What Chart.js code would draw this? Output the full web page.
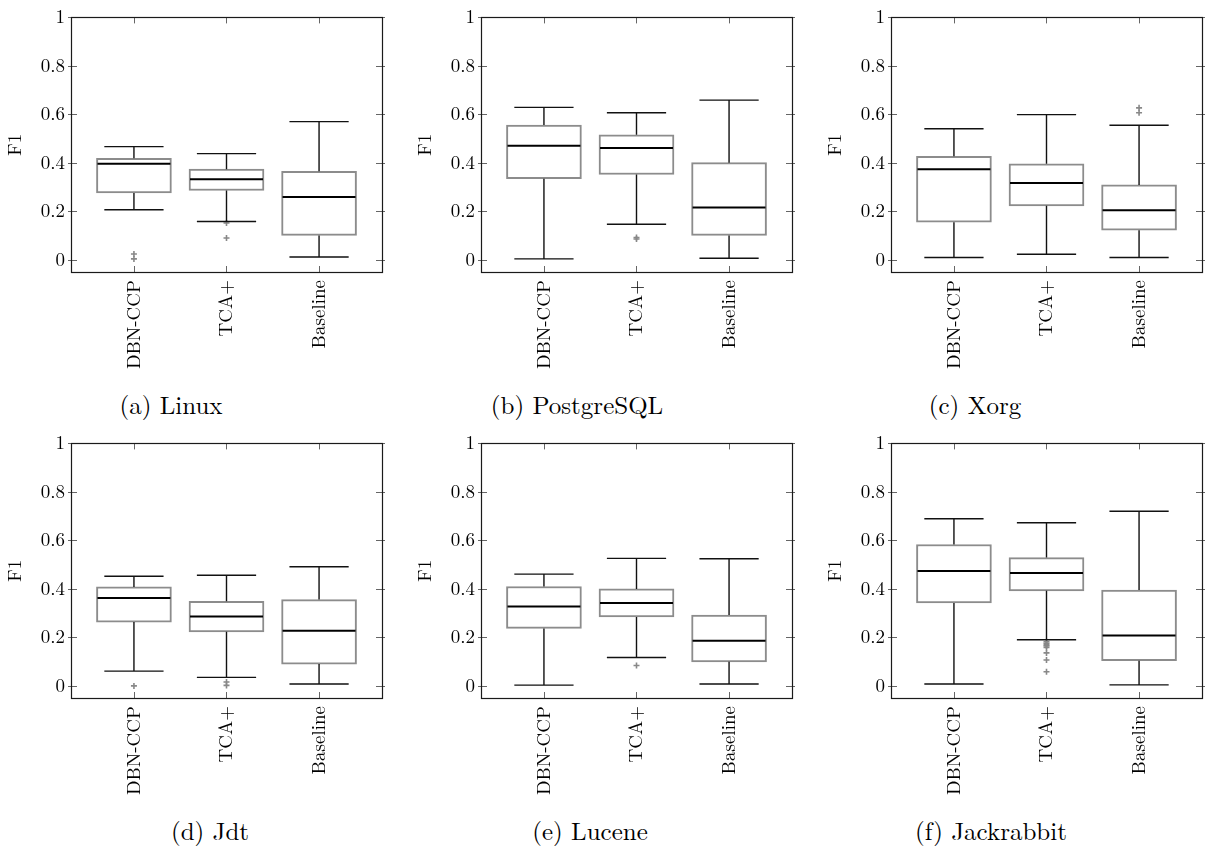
<!DOCTYPE html>
<html>
<head>
<meta charset="utf-8">
<script src="https://cdn.jsdelivr.net/npm/chart.js@4.4.1/dist/chart.umd.min.js"></script>
<style>
  html, body { margin: 0; padding: 0; background: #fff; }
  #figure { position: relative; width: 1209px; height: 850px; overflow: hidden; }
  #figure canvas { position: absolute; }
  .caption {
    position: absolute;
    transform: translate(-50%, -50%);
    font-family: 'Latin Modern Roman', 'CMU Serif', 'TeX Gyre Termes', 'Nimbus Roman', 'FreeSerif', 'Noto Serif', 'Liberation Serif', 'DejaVu Serif', serif;
    font-size: 25px;
    color: #000;
    white-space: nowrap;
  }
</style>
</head>
<body>
<div id="figure"></div>
<script>
// categories on the x axis of every panel
const categories = ['DBN-CCP', 'TCA+', 'Baseline'];
const captions = ['(a) Linux', '(b) PostgreSQL', '(c) Xorg', '(d) Jdt', '(e) Lucene', '(f) Jackrabbit'];
const yTicks = [0, 0.2, 0.4, 0.6, 0.8, 1];

// box statistics per panel, one value per category (DBN-CCP, TCA+, Baseline)
const lowerWhisker = [
  [0.207, 0.158, 0.012],
  [0.004, 0.147, 0.007],
  [0.010, 0.023, 0.010],
  [0.061, 0.035, 0.008],
  [0.003, 0.117, 0.008],
  [0.008, 0.190, 0.004],
];
const lowerQuartile = [
  [0.276, 0.286, 0.101],
  [0.335, 0.352, 0.101],
  [0.155, 0.223, 0.122],
  [0.263, 0.223, 0.090],
  [0.237, 0.284, 0.099],
  [0.342, 0.392, 0.104],
];
const medians = [
  [0.396, 0.333, 0.259],
  [0.471, 0.461, 0.216],
  [0.374, 0.317, 0.205],
  [0.362, 0.286, 0.227],
  [0.327, 0.342, 0.186],
  [0.474, 0.465, 0.208],
];
const upperQuartile = [
  [0.419, 0.374, 0.365],
  [0.556, 0.516, 0.401],
  [0.427, 0.396, 0.309],
  [0.408, 0.349, 0.356],
  [0.410, 0.400, 0.292],
  [0.583, 0.529, 0.395],
];
const upperWhisker = [
  [0.467, 0.438, 0.570],
  [0.629, 0.607, 0.659],
  [0.541, 0.599, 0.555],
  [0.452, 0.456, 0.491],
  [0.461, 0.526, 0.524],
  [0.689, 0.673, 0.720],
];
const outliers = [
  [[0.024, 0.004], [0.152, 0.090], []],
  [[], [0.092, 0.086], []],
  [[], [], [0.627, 0.607]],
  [[0.0], [0.016, 0.002], []],
  [[], [0.084], []],
  [[], [0.182, 0.176, 0.170, 0.165, 0.158, 0.136, 0.107, 0.058], []],
];

const FONT = "'Latin Modern Roman', 'CMU Serif', 'TeX Gyre Termes', 'Nimbus Roman', 'FreeSerif', 'Noto Serif', 'Liberation Serif', 'DejaVu Serif', serif";
const plotLefts = [71, 481, 891];
const plotTops = [14, 440];
const captionPos = [[171, 403], [577, 403], [975, 403], [210, 829], [590, 829], [991, 829]];

const boxPlugin = {
  id: 'boxWhiskers',
  afterDatasetsDraw(chart, args, opts) {
    const { ctx, scales } = chart;
    const k = opts.panel;
    const x = scales.x;
    const y = scales.y;
    ctx.save();
    categories.forEach((_, i) => {
      const cx = x.getPixelForValue(i + 1);
      const capL = x.getPixelForValue(i + 1 - 0.32);
      const capR = x.getPixelForValue(i + 1 + 0.32);
      const boxL = x.getPixelForValue(i + 1 - 0.405);
      const boxR = x.getPixelForValue(i + 1 + 0.405);
      ctx.strokeStyle = '#111';
      ctx.lineWidth = 1.4;
      ctx.beginPath();
      ctx.moveTo(cx, y.getPixelForValue(upperQuartile[k][i]));
      ctx.lineTo(cx, y.getPixelForValue(upperWhisker[k][i]));
      ctx.moveTo(cx, y.getPixelForValue(lowerQuartile[k][i]));
      ctx.lineTo(cx, y.getPixelForValue(lowerWhisker[k][i]));
      ctx.moveTo(capL, y.getPixelForValue(upperWhisker[k][i]));
      ctx.lineTo(capR, y.getPixelForValue(upperWhisker[k][i]));
      ctx.moveTo(capL, y.getPixelForValue(lowerWhisker[k][i]));
      ctx.lineTo(capR, y.getPixelForValue(lowerWhisker[k][i]));
      ctx.stroke();
      ctx.strokeStyle = '#000';
      ctx.lineWidth = 2;
      ctx.beginPath();
      ctx.moveTo(boxL + 1, y.getPixelForValue(medians[k][i]));
      ctx.lineTo(boxR - 1, y.getPixelForValue(medians[k][i]));
      ctx.stroke();
    });
    ctx.restore();
  },
  afterDraw(chart) {
    const { ctx, chartArea: a, scales } = chart;
    ctx.save();
    ctx.strokeStyle = '#666';
    ctx.lineWidth = 1;
    ctx.beginPath();
    scales.y.ticks.forEach((t) => {
      const py = Math.round(scales.y.getPixelForValue(t.value)) + 0.5;
      ctx.moveTo(a.left - 3, py); ctx.lineTo(a.left + 6, py);
      ctx.moveTo(a.right - 6, py); ctx.lineTo(a.right + 3, py);
    });
    scales.x.ticks.forEach((t) => {
      const px = Math.round(scales.x.getPixelForValue(t.value)) + 0.5;
      ctx.moveTo(px, a.top); ctx.lineTo(px, a.top + 6);
      ctx.moveTo(px, a.bottom); ctx.lineTo(px, a.bottom - 6);
    });
    ctx.stroke();
    ctx.strokeStyle = '#1a1a1a';
    ctx.lineWidth = 1.2;
    ctx.strokeRect(Math.round(a.left) + 0.5, Math.round(a.top) + 0.5,
      Math.round(a.right - a.left), Math.round(a.bottom - a.top));
    ctx.restore();
  },
};

function renderPanel(k) {
  const fig = document.getElementById('figure');
  const canvas = document.createElement('canvas');
  canvas.width = 389;
  canvas.height = 372;
  canvas.style.left = (plotLefts[k % 3] - 71) + 'px';
  canvas.style.top = (plotTops[Math.floor(k / 3)] - 14) + 'px';
  fig.appendChild(canvas);

  const cap = document.createElement('div');
  cap.className = 'caption';
  cap.textContent = captions[k];
  cap.style.left = captionPos[k][0] + 'px';
  cap.style.top = captionPos[k][1] + 'px';
  fig.appendChild(cap);

  const outlierPoints = [];
  outliers[k].forEach((vals, i) => vals.forEach((v) => outlierPoints.push({ x: i + 1, y: v })));

  new Chart(canvas.getContext('2d'), {
    type: 'bar',
    data: {
      datasets: [
        {
          label: 'IQR',
          data: categories.map((_, i) => ({ x: i + 1, y: [lowerQuartile[k][i], upperQuartile[k][i]] })),
          backgroundColor: '#fff',
          borderColor: '#8c8c8c',
          borderWidth: 2,
          borderSkipped: false,
          barThickness: 75,
        },
        {
          type: 'scatter',
          label: 'Outliers',
          data: outlierPoints,
          pointStyle: 'cross',
          radius: 3,
          borderColor: '#888',
          borderWidth: 1.6,
        },
      ],
    },
    options: {
      responsive: false,
      animation: false,
      devicePixelRatio: 1,
      layout: { padding: { top: 14, right: 7, left: 0, bottom: 0 } },
      scales: {
        x: {
          type: 'linear',
          min: 0.32,
          max: 3.68,
          offset: false,
          grid: { display: false, drawTicks: false },
          border: { display: false },
          afterBuildTicks: (scale) => { scale.ticks = categories.map((_, i) => ({ value: i + 1 })); },
          afterFit: (scale) => { scale.height = 100; },
          ticks: {
            autoSkip: false,
            minRotation: 90,
            maxRotation: 90,
            padding: 8,
            color: '#000',
            font: { family: FONT, size: 19 },
            callback: (value) => categories[value - 1],
          },
        },
        y: {
          min: -0.05,
          max: 1,
          grid: { display: false, drawTicks: false },
          border: { display: false },
          afterBuildTicks: (scale) => { scale.ticks = yTicks.map((v) => ({ value: v })); },
          afterFit: (scale) => { scale.width = 71; },
          title: {
            display: true,
            text: 'F1',
            color: '#000',
            font: { family: FONT, size: 19 },
            padding: { top: 4, bottom: 0 },
          },
          ticks: {
            padding: 6,
            color: '#000',
            font: { family: FONT, size: 19 },
            callback: (value) => String(Math.round(value * 10) / 10),
          },
        },
      },
      plugins: {
        legend: { display: false },
        tooltip: { enabled: false },
        boxWhiskers: { panel: k },
      },
    },
    plugins: [boxPlugin],
  });
}

captions.forEach((_, k) => renderPanel(k));
</script>
</body>
</html>
